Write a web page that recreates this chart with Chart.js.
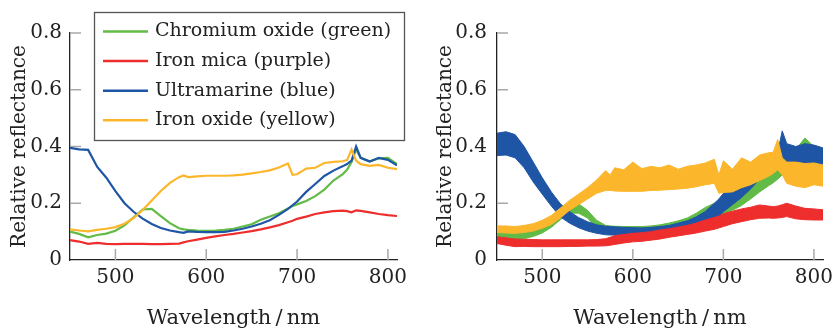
<!DOCTYPE html>
<html>
<head>
<meta charset="utf-8">
<script src="https://cdn.jsdelivr.net/npm/chart.js@4.4.1/dist/chart.umd.min.js"></script>
<style>
  body { margin: 0; background: #fff; }
  #left { position: absolute; left: 0; top: 0; }
  #right { position: absolute; left: 417px; top: 0; }
</style>
</head>
<body>
<canvas id="left" width="417" height="331"></canvas>
<canvas id="right" width="418" height="331"></canvas>
<script>
// wavelengths (nm) shared by every series
var wl = [450,460,470,480,490,500,510,520,530,540,550,560,570,575,580,590,600,610,620,630,640,650,660,670,680,690,695,700,710,720,730,740,750,755,760,765,770,780,790,800,810];
var xTicks = [500, 600, 700, 800];
var yTicks = [0, 0.2, 0.4, 0.6, 0.8];

// left panel: mean spectra
var chromium = [0.100,0.092,0.080,0.088,0.093,0.103,0.122,0.150,0.178,0.180,0.155,0.130,0.112, 0.108, 0.106,0.104,0.103,0.104,0.106,0.110,0.118,0.126,0.142,0.153,0.165,0.182, 0.190, 0.196,0.208,0.225,0.248,0.280,0.302, 0.318, 0.345, 0.390, 0.360,0.348,0.358,0.360,0.338];
var ironMica = [0.070,0.065,0.057,0.060,0.057,0.056,0.057,0.057,0.057,0.056,0.056,0.057,0.058, 0.062, 0.066,0.072,0.078,0.083,0.088,0.092,0.097,0.102,0.108,0.115,0.123,0.133, 0.138, 0.145,0.153,0.162,0.168,0.172,0.174, 0.172, 0.168, 0.175, 0.173,0.168,0.162,0.158,0.155];
var ultramarine = [0.395,0.390,0.388,0.328,0.290,0.243,0.200,0.170,0.146,0.127,0.113,0.104,0.098, 0.096, 0.101,0.099,0.098,0.098,0.099,0.104,0.110,0.118,0.128,0.140,0.159,0.180, 0.193, 0.206,0.240,0.268,0.296,0.315,0.330, 0.338, 0.350, 0.400, 0.360,0.347,0.360,0.353,0.334];
var ironOxide = [0.108,0.104,0.101,0.106,0.110,0.116,0.128,0.148,0.176,0.210,0.243,0.272,0.292, 0.298, 0.292,0.295,0.297,0.297,0.297,0.298,0.301,0.305,0.310,0.316,0.326,0.340, 0.300, 0.302,0.322,0.325,0.342,0.346,0.348, 0.352, 0.389, 0.350, 0.338,0.332,0.335,0.325,0.320];

// right panel: spread of all measured spectra (upper / lower envelope)
var greenHi = [.106,.103,.100,.103,.110,.125,.145,.175,.200,.198,.175,.140,.122, .120, .119,.118,.118,.118,.120,.124,.130,.138,.148,.165,.185,.200, .205, .210,.225,.245,.265,.290,.310, .325, .345, .400, .390,.390,.430,.400,.385];
var greenLo = [.082,.077,.072,.075,.083,.095,.115,.142,.165,.165,.148,.112,.098, .096, .095,.094,.093,.093,.095,.098,.103,.110,.120,.132,.145,.152, .155, .158,.175,.192,.215,.240,.262, .272, .285, .300, .330,.335,.340,.340,.335];
var redHi = [.082,.078,.074,.073,.072,.071,.071,.071,.071,.071,.071,.072,.075, .080, .086,.090,.094,.096,.100,.106,.110,.116,.122,.130,.141,.150, .155, .163,.172,.180,.186,.194,.190, .188, .190, .195, .200,.190,.182,.180,.177];
var redLo = [.058,.052,.047,.048,.047,.047,.047,.047,.048,.048,.049,.049,.050, .052, .055,.060,.064,.066,.070,.074,.080,.085,.090,.095,.102,.108, .113, .118,.128,.135,.142,.147,.148, .147, .148, .150, .153,.145,.142,.141,.141];
var blueHi = [.447,.452,.442,.400,.345,.290,.240,.198,.171,.150,.135,.124,.119, .118, .117,.115,.114,.113,.115,.118,.122,.130,.138,.152,.171,.200, .215, .235,.262,.285,.330,.360,.370, .372, .380, .455, .410,.400,.410,.405,.395];
var blueLo = [.368,.370,.360,.325,.275,.232,.190,.152,.130,.114,.102,.094,.089, .088, .088,.087,.085,.083,.082,.085,.088,.093,.100,.113,.130,.148, .155, .170,.195,.220,.250,.285,.310, .320, .330, .350, .340,.335,.335,.335,.330];
var yellowHi = [.120,.120,.118,.122,.128,.140,.157,.183,.210,.232,.255,.282,.315, .300, .325,.318,.345,.322,.330,.325,.335,.320,.330,.335,.342,.355, .300, .350,.320,.360,.345,.370,.378, .380, .425, .360, .345,.345,.340,.342,.335];
var yellowLo = [.097,.095,.094,.097,.102,.112,.125,.148,.175,.195,.215,.235,.245, .245, .243,.242,.242,.242,.245,.246,.248,.250,.253,.258,.265,.270, .235, .238,.240,.255,.265,.280,.295, .305, .318, .300, .270,.260,.255,.265,.260];

var GREEN = '#62BB46', RED = '#EE2D2D', BLUE = '#1F55A5', YELLOW = '#FBB62C';
var INK = '#222';

Chart.defaults.font.family = '"DejaVu Serif", serif';
Chart.defaults.color = INK;

function pts(vals) {
  return wl.map(function (x, i) { return { x: x, y: vals[i] }; });
}

// tick marks drawn inside the plot, like pgfplots
var insideTicks = {
  id: 'insideTicks',
  beforeDatasetsDraw: function (chart) {
    var ctx = chart.ctx, a = chart.chartArea, sx = chart.scales.x, sy = chart.scales.y;
    ctx.save();
    ctx.strokeStyle = '#a8a8a8';
    ctx.lineWidth = 1.5;
    sx.ticks.forEach(function (t) {
      var p = sx.getPixelForValue(t.value);
      ctx.beginPath(); ctx.moveTo(p, a.bottom); ctx.lineTo(p, a.bottom - 11); ctx.stroke();
    });
    sy.ticks.forEach(function (t) {
      if (t.value === 0) return;
      var p = sy.getPixelForValue(t.value);
      ctx.beginPath(); ctx.moveTo(a.left, p); ctx.lineTo(a.left + 11, p); ctx.stroke();
    });
    ctx.restore();
  }
};

// boxed legend in the upper part of the left panel
var boxLegend = {
  id: 'boxLegend',
  afterDraw: function (chart) {
    var ctx = chart.ctx;
    ctx.save();
    ctx.fillStyle = '#fff';
    ctx.fillRect(94, 12, 310, 128);
    ctx.strokeStyle = '#555';
    ctx.lineWidth = 1.3;
    ctx.strokeRect(94.5, 12.5, 310, 128);
    ctx.font = '19px "DejaVu Serif"';
    ctx.textBaseline = 'middle';
    ctx.fillStyle = INK;
    chart.data.datasets.forEach(function (ds, i) {
      var y = 31.5 + i * 29.6;
      ctx.strokeStyle = ds.borderColor;
      ctx.lineWidth = 2.5;
      ctx.beginPath(); ctx.moveTo(103, y); ctx.lineTo(148, y); ctx.stroke();
      ctx.fillText(ds.label, 155, y);
    });
    ctx.restore();
  }
};

function axes(yWidth, yTitlePad, yTickPad) {
  return {
    x: {
      type: 'linear', min: 450, max: 810,
      afterBuildTicks: function (s) { s.ticks = xTicks.map(function (v) { return { value: v }; }); },
      afterFit: function (s) { s.height = 71; s.paddingLeft = 0; s.paddingRight = 0; },
      grid: { display: false, drawTicks: false },
      border: { display: true, color: INK, width: 1.3 },
      ticks: { padding: 6, font: { size: 20 }, color: INK, maxRotation: 0 },
      title: { display: true, text: 'Wavelength\u2009/\u2009nm', font: { size: 21 }, color: INK, padding: { top: 0, bottom: 0 } }
    },
    y: {
      type: 'linear', min: 0, max: 0.8,
      afterBuildTicks: function (s) { s.ticks = yTicks.map(function (v) { return { value: v }; }); },
      afterFit: function (s) { s.width = yWidth; s.paddingTop = 0; s.paddingBottom = 0; },
      grid: { display: false, drawTicks: false },
      border: { display: true, color: INK, width: 1.3 },
      ticks: { padding: yTickPad, font: { size: 20 }, color: INK },
      title: { display: true, text: 'Relative reflectance', font: { size: 20 }, color: INK, padding: { top: yTitlePad, bottom: 0 } }
    }
  };
}

function line(label, vals, color, order) {
  return { label: label, data: pts(vals), borderColor: color, backgroundColor: color,
           borderWidth: 2.2, pointRadius: 0, fill: false, order: order };
}

new Chart(document.getElementById('left'), {
  type: 'line',
  data: {
    datasets: [
      line('Chromium oxide (green)', chromium, GREEN, 4),
      line('Iron mica (purple)', ironMica, RED, 3),
      line('Ultramarine (blue)', ultramarine, BLUE, 2),
      line('Iron oxide (yellow)', ironOxide, YELLOW, 1)
    ]
  },
  options: {
    responsive: false,
    animation: false,
    layout: { padding: { top: 33, right: 20, left: 0, bottom: 0 } },
    plugins: { legend: { display: false }, tooltip: { enabled: false } },
    scales: axes(70, 8, 8)
  },
  plugins: [insideTicks, boxLegend]
});

function band(lo, hi, color, order) {
  return [
    { data: pts(lo), borderColor: color, borderWidth: 1, pointRadius: 0, fill: false, order: order },
    { data: pts(hi), borderColor: color, backgroundColor: color, borderWidth: 1, pointRadius: 0, fill: '-1', order: order }
  ];
}

new Chart(document.getElementById('right'), {
  type: 'line',
  data: {
    datasets: [].concat(
      band(greenLo, greenHi, GREEN, 4),
      band(blueLo, blueHi, BLUE, 3),
      band(redLo, redHi, RED, 2),
      band(yellowLo, yellowHi, YELLOW, 1)
    )
  },
  options: {
    responsive: false,
    animation: false,
    layout: { padding: { top: 33, right: 12, left: 0, bottom: 0 } },
    plugins: { legend: { display: false }, tooltip: { enabled: false } },
    scales: axes(80, 17, 10)
  },
  plugins: [insideTicks]
});
</script>
</body>
</html>
